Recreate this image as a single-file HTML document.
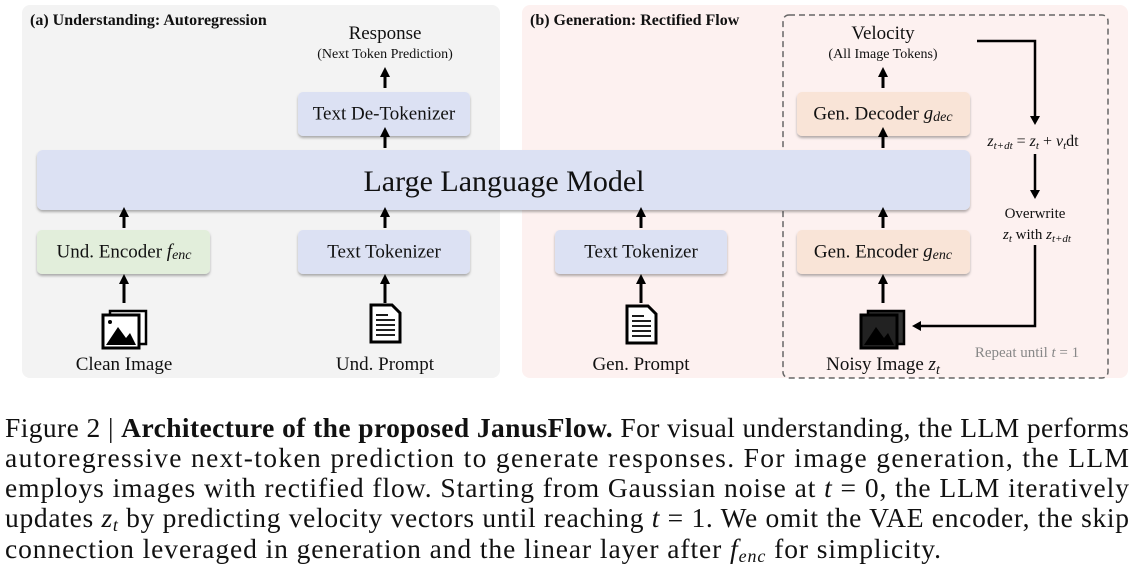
<!DOCTYPE html>
<html><head><meta charset="utf-8"><style>
html,body{margin:0;padding:0;background:#fff;}
svg{display:block;}
text{font-family:"Liberation Serif",serif;fill:#111;}
</style></head><body>
<svg width="1138" height="574" viewBox="0 0 1138 574" xmlns="http://www.w3.org/2000/svg">
<defs>
<filter id="sh" x="-5%" y="-10%" width="110%" height="130%"><feDropShadow dx="0" dy="2" stdDeviation="1.2" flood-color="#000" flood-opacity="0.3"/></filter>
</defs>
<rect x="22" y="5" width="478" height="373" rx="8" fill="#f3f3f3"/>
<rect x="522" y="5" width="606" height="373" rx="8" fill="#fdf1f0"/>
<text x="30" y="25" font-size="16" font-weight="bold">(a) Understanding: Autoregression</text>
<text x="530" y="25" font-size="16" font-weight="bold">(b) Generation: Rectified Flow</text>
<rect x="783" y="15" width="325" height="363" rx="6" fill="none" stroke="#666" stroke-width="1.5" stroke-dasharray="6,4"/>

<g filter="url(#sh)">
<rect x="37" y="150" width="933" height="60" rx="6" fill="#dce1f3"/>
<rect x="298" y="92" width="172" height="44" rx="5" fill="#dce1f3"/>
<rect x="37" y="230" width="173" height="44" rx="5" fill="#e2eedb"/>
<rect x="298" y="230" width="172" height="44" rx="5" fill="#dce1f3"/>
<rect x="555" y="230" width="172" height="44" rx="5" fill="#dce1f3"/>
<rect x="797" y="92" width="173" height="44" rx="5" fill="#f9e4d7"/>
<rect x="797" y="230" width="173" height="44" rx="5" fill="#f9e4d7"/>
</g>
<text x="504" y="191" font-size="30" text-anchor="middle">Large Language Model</text>
<text x="384" y="115" font-size="19" text-anchor="middle" dominant-baseline="middle">Text De-Tokenizer</text>
<text x="124" y="253" font-size="19" text-anchor="middle" dominant-baseline="middle">Und. Encoder <tspan font-style="italic">f<tspan font-size="14" dy="3">enc</tspan></tspan></text>
<text x="384" y="253" font-size="19" text-anchor="middle" dominant-baseline="middle">Text Tokenizer</text>
<text x="641" y="253" font-size="19" text-anchor="middle" dominant-baseline="middle">Text Tokenizer</text>
<text x="883" y="115" font-size="19" text-anchor="middle" dominant-baseline="middle">Gen. Decoder <tspan font-style="italic">g<tspan font-size="14" dy="3">dec</tspan></tspan></text>
<text x="883" y="253" font-size="19" text-anchor="middle" dominant-baseline="middle">Gen. Encoder <tspan font-style="italic">g<tspan font-size="14" dy="3">enc</tspan></tspan></text>

<text x="385" y="39" font-size="19" text-anchor="middle">Response</text>
<text x="385" y="58" font-size="14" text-anchor="middle">(Next Token Prediction)</text>
<text x="883" y="39" font-size="19" text-anchor="middle">Velocity</text>
<text x="883" y="58" font-size="14" text-anchor="middle">(All Image Tokens)</text>

<g stroke="#000" stroke-width="3">
<line x1="385" y1="88" x2="385" y2="74"/>
<line x1="385" y1="148" x2="385" y2="134"/>
<line x1="124" y1="228" x2="124" y2="214"/>
<line x1="385" y1="228" x2="385" y2="214"/>
<line x1="641" y1="228" x2="641" y2="214"/>
<line x1="883" y1="228" x2="883" y2="214"/>
<line x1="883" y1="148" x2="883" y2="134"/>
<line x1="883" y1="88" x2="883" y2="74"/>
<line x1="124" y1="303" x2="124" y2="281"/>
<line x1="385" y1="303" x2="385" y2="281"/>
<line x1="641" y1="303" x2="641" y2="281"/>
<line x1="883" y1="303" x2="883" y2="281"/>
</g>
<g fill="#000">
<path d="M380,77 L390,77 L385,67 z M380,137 L390,137 L385,127 z M119,217 L129,217 L124,207 z M380,217 L390,217 L385,207 z M636,217 L646,217 L641,207 z M878,217 L888,217 L883,207 z M878,137 L888,137 L883,127 z M878,77 L888,77 L883,67 z M119,284 L129,284 L124,274 z M380,284 L390,284 L385,274 z M636,284 L646,284 L641,274 z M878,284 L888,284 L883,274 z"/>
</g>
<g stroke="#000" stroke-width="2.5" fill="none">
<polyline points="977,41 1035,41 1035,118"/>
<line x1="1035" y1="154" x2="1035" y2="192"/>
<polyline points="1035,245 1035,326 920,326"/>
</g>
<path d="M1030,116 L1040,116 L1035,125 z M1030,190 L1040,190 L1035,199 z M921,321 L921,331 L912,326 z" fill="#000"/>

<text x="1033" y="146" font-size="16" text-anchor="middle" font-style="italic">z<tspan font-size="11" dy="3">t+dt</tspan><tspan dy="-3" font-style="normal"> = </tspan>z<tspan font-size="11" dy="3">t</tspan><tspan dy="-3" font-style="normal"> + </tspan>v<tspan font-size="11" dy="3">t</tspan><tspan dy="-3" font-style="normal">dt</tspan></text>
<text x="1035" y="218" font-size="15" text-anchor="middle">Overwrite</text>
<text x="1037" y="239" font-size="15" text-anchor="middle"><tspan font-style="italic">z</tspan><tspan font-size="11" dy="3" font-style="italic">t</tspan><tspan dy="-3"> with </tspan><tspan font-style="italic">z</tspan><tspan font-size="11" dy="3" font-style="italic">t+dt</tspan></text>
<text x="1027" y="357" font-size="15" text-anchor="middle" style="fill:#888">Repeat until <tspan font-style="italic">t</tspan> = 1</text>

<g>
<rect x="110" y="311" width="36" height="33" fill="#fff" stroke="#000" stroke-width="2.5"/>
<rect x="103" y="315" width="36" height="33" fill="#fff" stroke="#000" stroke-width="3"/>
<path d="M106,345 L118,327 L126,338 L130,333 L136,345 z" fill="#000"/>
<circle cx="110" cy="322" r="2" fill="#000"/>
</g>
<g>
<rect x="868" y="311" width="36" height="33" fill="#333" stroke="#000" stroke-width="2.5"/>
<rect x="861" y="315" width="36" height="33" fill="#222" stroke="#000" stroke-width="3"/>
<path d="M864,345 L876,327 L884,338 L888,333 L894,345 z" fill="#000"/>
</g>
<g>
<path d="M371,305 L392,305 L400,313 L400,342 L371,342 z" fill="#fff" stroke="#000" stroke-width="3"/>
<g stroke="#000" stroke-width="1.8"><line x1="376" y1="320" x2="395" y2="320"/><line x1="376" y1="325" x2="395" y2="325"/><line x1="376" y1="330" x2="395" y2="330"/><line x1="376" y1="335" x2="395" y2="335"/><line x1="376" y1="315" x2="388" y2="315"/></g>
</g>
<g>
<path d="M627,306 L648,306 L656,314 L656,343 L627,343 z" fill="#fff" stroke="#000" stroke-width="3"/>
<g stroke="#000" stroke-width="1.8"><line x1="632" y1="321" x2="651" y2="321"/><line x1="632" y1="326" x2="651" y2="326"/><line x1="632" y1="331" x2="651" y2="331"/><line x1="632" y1="336" x2="651" y2="336"/><line x1="632" y1="316" x2="644" y2="316"/></g>
</g>

<text x="124" y="370" font-size="19" text-anchor="middle">Clean Image</text>
<text x="385" y="370" font-size="19" text-anchor="middle">Und. Prompt</text>
<text x="641" y="370" font-size="19" text-anchor="middle">Gen. Prompt</text>
<text x="883" y="370" font-size="19" text-anchor="middle">Noisy Image <tspan font-style="italic">z</tspan><tspan font-size="14" dy="4" font-style="italic">t</tspan></text>

<g font-size="27.5">
<text x="5" y="437" textLength="1124" lengthAdjust="spacing">Figure 2 | <tspan font-weight="bold">Architecture of the proposed JanusFlow.</tspan> For visual understanding, the LLM performs</text>
<text x="5" y="467" textLength="1124" lengthAdjust="spacing">autoregressive next-token prediction to generate responses. For image generation, the LLM</text>
<text x="5" y="497" textLength="1124" lengthAdjust="spacing">employs images with rectified flow. Starting from Gaussian noise at <tspan font-style="italic">t</tspan> = 0, the LLM iteratively</text>
<text x="5" y="527" textLength="1124" lengthAdjust="spacing">updates <tspan font-style="italic">z</tspan><tspan font-size="18" dy="4" font-style="italic">t</tspan><tspan dy="-4"> by predicting velocity vectors until reaching </tspan><tspan font-style="italic">t</tspan> = 1. We omit the VAE encoder, the skip</text>
<text x="5" y="558" textLength="936" lengthAdjust="spacing">connection leveraged in generation and the linear layer after <tspan font-style="italic">f</tspan><tspan font-size="18" dy="4" font-style="italic">enc</tspan><tspan dy="-4"> for simplicity.</tspan></text>
</g>
</svg>
</body></html>
